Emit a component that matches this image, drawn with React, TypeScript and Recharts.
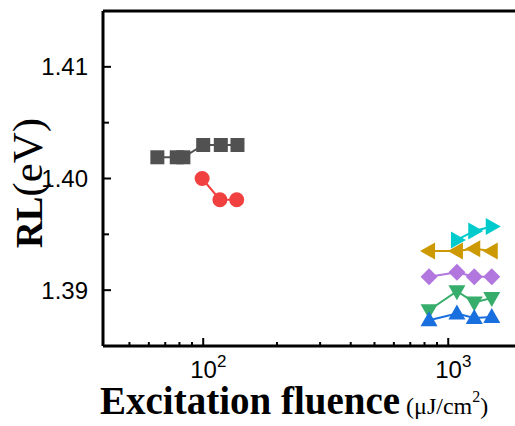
import { Label, Scatter, ScatterChart, XAxis, YAxis } from 'recharts'

// fluence values (µJ/cm²)
const fluenceLow = [65, 78, 83, 100, 118, 138]
const fluenceRed = [99, 117, 137]
const fluenceHigh = [835, 1085, 1277, 1505]
const fluenceCyan = [1085, 1277, 1505]

// RL peak energy (eV)
const rlBlack = [1.4019, 1.4019, 1.4019, 1.403, 1.403, 1.403]
const rlRed = [1.4, 1.3981, 1.3981]
const rlCyan = [1.3945, 1.3953, 1.3957]
const rlGold = [1.3935, 1.3935, 1.3937, 1.3935]
const rlPurple = [1.3912, 1.3916, 1.3912, 1.3912]
const rlGreen = [1.3882, 1.3899, 1.3889, 1.3893]
const rlBlue = [1.3873, 1.3879, 1.3875, 1.3876]

const xTicks = [50, 60, 70, 80, 90, 100, 200, 300, 400, 500, 600, 700, 800, 900, 1000, 2000]
const yTicks = [1.39, 1.395, 1.4, 1.405, 1.41]

const toPoints = (xs: number[], ys: number[]) => xs.map((x, i) => ({ x, y: ys[i] }))

type Kind = 'square' | 'circle' | 'right' | 'left' | 'diamond' | 'down' | 'up'

const marker = (kind: Kind, color: string) => (props: any) => {
  const { cx, cy } = props
  if (cx == null || cy == null) return <g />
  switch (kind) {
    case 'square':
      return <rect x={cx - 7} y={cy - 7} width={14} height={14} fill={color} />
    case 'circle':
      return <circle cx={cx} cy={cy} r={7.5} fill={color} />
    case 'diamond':
      return <polygon points={`${cx},${cy - 8.5} ${cx + 8.5},${cy} ${cx},${cy + 8.5} ${cx - 8.5},${cy}`} fill={color} />
    case 'up':
      return <polygon points={`${cx},${cy - 9} ${cx + 8.5},${cy + 6} ${cx - 8.5},${cy + 6}`} fill={color} />
    case 'down':
      return <polygon points={`${cx},${cy + 9} ${cx + 8.5},${cy - 6} ${cx - 8.5},${cy - 6}`} fill={color} />
    case 'right':
      return <polygon points={`${cx + 9},${cy} ${cx - 6},${cy - 8.5} ${cx - 6},${cy + 8.5}`} fill={color} />
    case 'left':
      return <polygon points={`${cx - 9},${cy} ${cx + 6},${cy - 8.5} ${cx + 6},${cy + 8.5}`} fill={color} />
  }
}

const series: { name: string; xs: number[]; ys: number[]; color: string; kind: Kind }[] = [
  { name: 'black', xs: fluenceLow, ys: rlBlack, color: '#515151', kind: 'square' },
  { name: 'red', xs: fluenceRed, ys: rlRed, color: '#F14040', kind: 'circle' },
  { name: 'cyan', xs: fluenceCyan, ys: rlCyan, color: '#00CBCC', kind: 'right' },
  { name: 'gold', xs: fluenceHigh, ys: rlGold, color: '#CC9900', kind: 'left' },
  { name: 'purple', xs: fluenceHigh, ys: rlPurple, color: '#B177DE', kind: 'diamond' },
  { name: 'green', xs: fluenceHigh, ys: rlGreen, color: '#37AD6B', kind: 'down' },
  { name: 'blue', xs: fluenceHigh, ys: rlBlue, color: '#1A6FDF', kind: 'up' },
]

const sans = 'Liberation Sans, Arial, sans-serif'
const serif = 'Liberation Serif, Times New Roman, serif'

const XTick = (props: any) => {
  const { x, y, payload } = props
  const v = payload.value
  const major = v === 100 || v === 1000
  return (
    <g>
      <line x1={x} x2={x} y1={y} y2={y - (major ? 8 : 4)} stroke="#000" strokeWidth={2} />
      {major && (
        <text x={x - 13} y={y + 32} fontFamily={sans} fontSize={24} fill="#000">
          10
          <tspan fontSize={17} dy={-11}>{Math.round(Math.log10(v))}</tspan>
        </text>
      )}
    </g>
  )
}

const YTick = (props: any) => {
  const { x, y, payload } = props
  const v = payload.value
  const major = Math.abs(v * 100 - Math.round(v * 100)) < 1e-6
  return (
    <g>
      <line x1={x} x2={x + (major ? 8 : 6)} y1={y} y2={y} stroke="#000" strokeWidth={2} />
      {major && (
        <text x={x - 15} y={y} dy="0.36em" textAnchor="end" fontFamily={sans} fontSize={24} fill="#000">
          {v.toFixed(2)}
        </text>
      )}
    </g>
  )
}

export default function App() {
  return (
    <div style={{ position: 'absolute', left: 0, top: 0, width: 515, height: 426, overflow: 'hidden', background: '#fff' }}>
      <ScatterChart width={530} height={426} margin={{ top: 10, right: 8, bottom: 79, left: 102 }}>
        <XAxis
          type="number"
          dataKey="x"
          scale="log"
          domain={[39, 2000]}
          allowDataOverflow
          ticks={xTicks}
          interval={0}
          height={1}
          tickSize={0}
          tickMargin={0}
          tickLine={false}
          tick={<XTick />}
          axisLine={{ stroke: '#000', strokeWidth: 3 }}
        >
          <Label
            content={() => (
              <text x={100} y={414} fill="#000" fontFamily={serif}>
                <tspan fontWeight="bold" fontSize={39}>Excitation fluence</tspan>
                <tspan fontSize={24}> (μJ/cm</tspan>
                <tspan fontSize={16} dy={-12}>2</tspan>
                <tspan fontSize={24} dy={12}>)</tspan>
              </text>
            )}
          />
        </XAxis>
        <XAxis
          xAxisId="top"
          orientation="top"
          type="number"
          scale="log"
          domain={[39, 2000]}
          allowDataOverflow
          height={1}
          tick={false}
          tickLine={false}
          axisLine={{ stroke: '#000', strokeWidth: 3 }}
        />
        <YAxis
          type="number"
          dataKey="y"
          domain={[1.385, 1.415]}
          allowDataOverflow
          ticks={yTicks}
          interval={0}
          width={1}
          tickSize={0}
          tickMargin={0}
          tickLine={false}
          tick={<YTick />}
          axisLine={{ stroke: '#000', strokeWidth: 3 }}
        >
          <Label
            content={() => (
              <text x={42} y={183} transform="rotate(-90, 42, 183)" textAnchor="middle" fill="#000" fontFamily={serif}>
                <tspan fontWeight="bold" fontSize={37}>RL</tspan>
                <tspan fontSize={43}>(eV)</tspan>
              </text>
            )}
          />
        </YAxis>
        {series.map((s) => (
          <Scatter
            key={s.name}
            name={s.name}
            data={toPoints(s.xs, s.ys)}
            line={{ stroke: s.color, strokeWidth: 2 }}
            lineJointType="linear"
            shape={marker(s.kind, s.color)}
            isAnimationActive={false}
          />
        ))}
      </ScatterChart>
    </div>
  )
}
